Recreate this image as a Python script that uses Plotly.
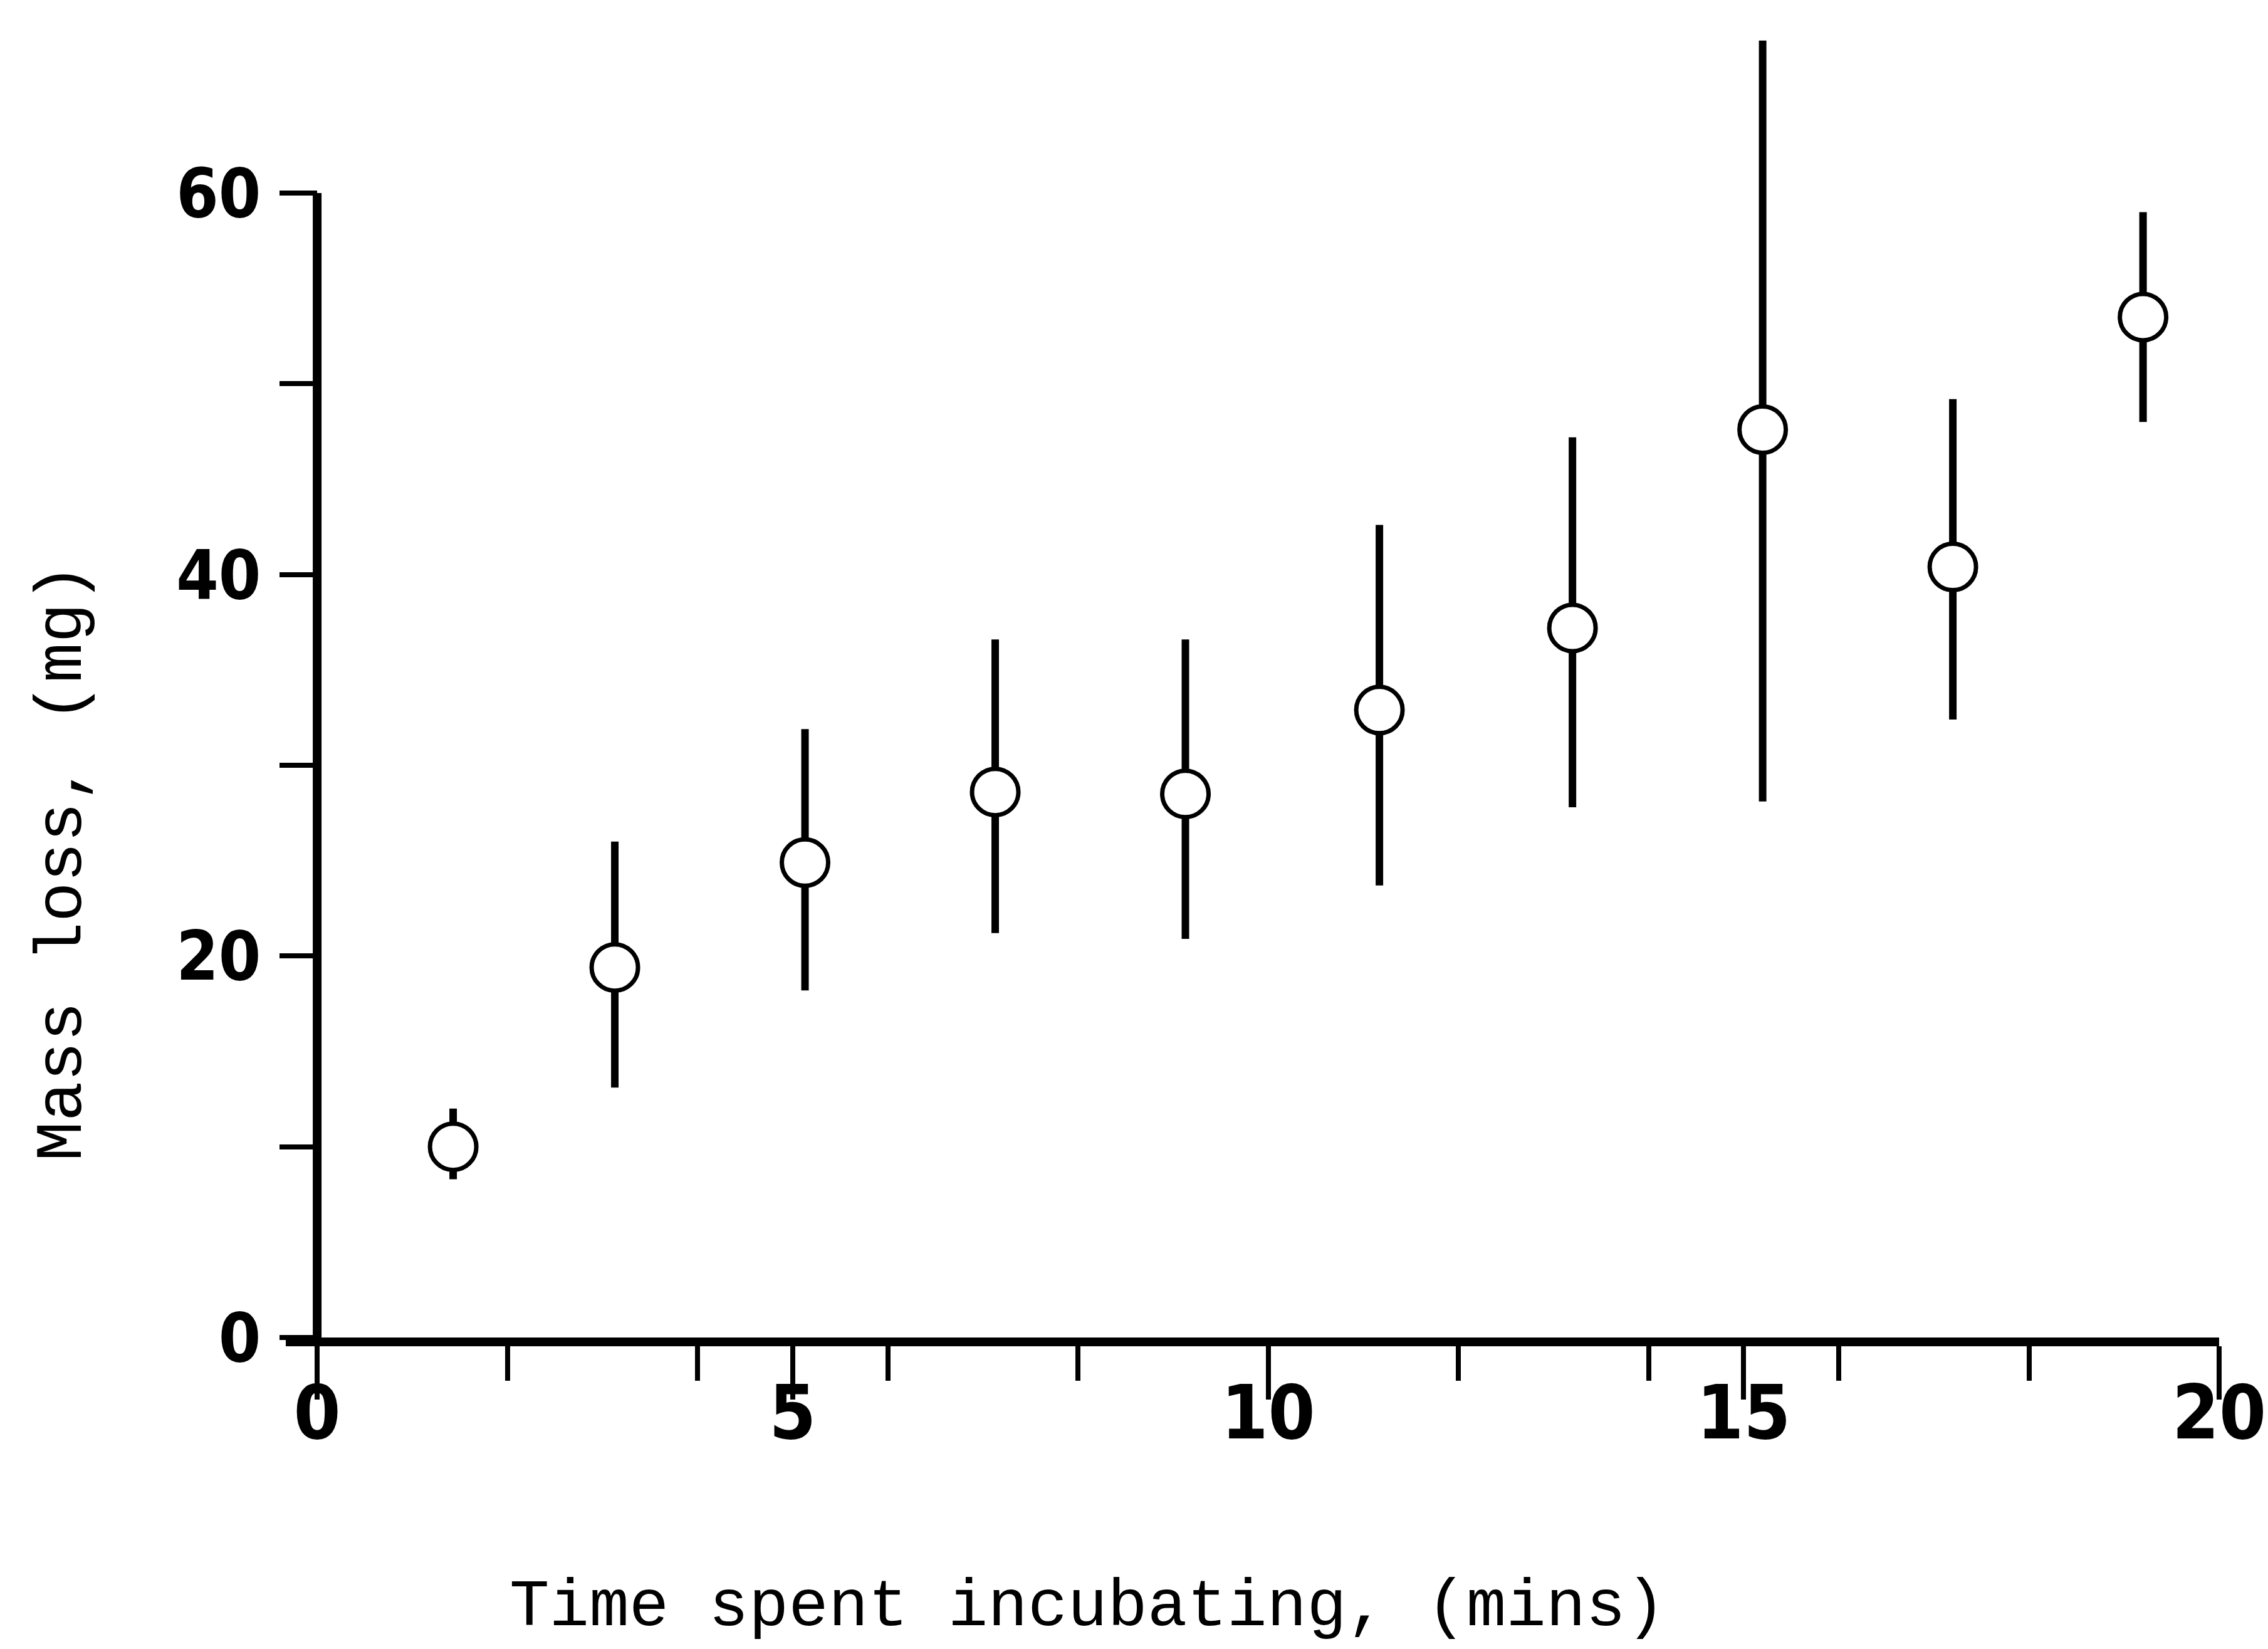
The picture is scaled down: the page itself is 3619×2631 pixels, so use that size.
import plotly.graph_objects as go

# values
time_min = [1.43, 3.13, 5.13, 7.13, 9.13, 11.17, 13.2, 15.2, 17.2, 19.2]
mass_loss = [10.0, 19.4, 24.9, 28.6, 28.5, 32.9, 37.2, 47.6, 40.4, 53.5]
bar_top = [12.0, 26.0, 31.9, 36.6, 36.6, 42.6, 47.2, 68.0, 49.2, 59.0]
bar_bottom = [8.3, 13.1, 18.2, 21.2, 20.9, 23.7, 27.8, 28.1, 32.4, 48.0]

x_major = [0, 5, 10, 15, 20]
x_minor = [2, 4, 6, 8, 12, 14, 16, 18]
y_major = [0, 20, 40, 60]
y_minor = [10, 30, 50]

x_range = [-0.33, 20]
y_range = [0, 69.5]

err_plus = [t - m for t, m in zip(bar_top, mass_loss)]
err_minus = [m - b for m, b in zip(mass_loss, bar_bottom)]

tick_font = dict(
    family="Liberation Sans Narrow, Arial Narrow, DejaVu Sans Condensed, Liberation Sans",
    weight="bold",
    color="black",
)
title_font = dict(family="Liberation Mono, Courier New, monospace", size=106, color="black")

fig = go.Figure()
fig.add_trace(
    go.Scatter(
        x=time_min,
        y=mass_loss,
        mode="markers",
        marker=dict(size=74, color="white", line=dict(width=7, color="black")),
        error_y=dict(
            type="data",
            symmetric=False,
            array=err_plus,
            arrayminus=err_minus,
            width=0,
            thickness=12,
            color="black",
        ),
        showlegend=False,
    )
)

# y axis line only runs up to the last tick
fig.add_shape(
    type="line",
    xref="x",
    yref="y",
    x0=0,
    x1=0,
    y0=min(y_major),
    y1=max(y_major),
    line=dict(color="black", width=14),
    layer="below",
)

fig.update_layout(
    width=3619,
    height=2631,
    margin=dict(l=448, r=78, t=11, b=505),
    paper_bgcolor="white",
    plot_bgcolor="white",
    xaxis=dict(
        range=x_range,
        showgrid=False,
        zeroline=False,
        showline=True,
        linecolor="black",
        linewidth=14,
        tickmode="array",
        tickvals=x_major,
        ticktext=[str(v) for v in x_major],
        ticks="outside",
        ticklen=85,
        tickwidth=8,
        tickcolor="black",
        ticklabelstandoff=-82,
        tickfont=dict(size=120, **tick_font),
        minor=dict(tickvals=x_minor, ticks="outside", ticklen=55, tickwidth=8, tickcolor="black"),
    ),
    yaxis=dict(
        range=y_range,
        anchor="free",
        position=(0 - x_range[0]) / (x_range[1] - x_range[0]),
        showgrid=False,
        zeroline=False,
        showline=False,
        tickmode="array",
        tickvals=y_major,
        ticktext=[str(v) for v in y_major],
        ticks="outside",
        ticklen=60,
        tickwidth=8,
        tickcolor="black",
        ticklabelstandoff=8,
        tickfont=dict(size=108, **tick_font),
        minor=dict(tickvals=y_minor, ticks="outside", ticklen=60, tickwidth=8, tickcolor="black"),
    ),
    annotations=[
        dict(
            text="Time spent incubating, (mins)",
            xref="paper",
            yref="paper",
            x=0.4148,
            y=-0.2038,
            xanchor="center",
            yanchor="middle",
            showarrow=False,
            font=title_font,
        ),
        dict(
            text="Mass loss, (mg)",
            xref="paper",
            yref="paper",
            x=-0.1151,
            y=0.3585,
            xanchor="center",
            yanchor="middle",
            textangle=-90,
            showarrow=False,
            font=title_font,
        ),
    ],
)

fig.write_html("out.html")
